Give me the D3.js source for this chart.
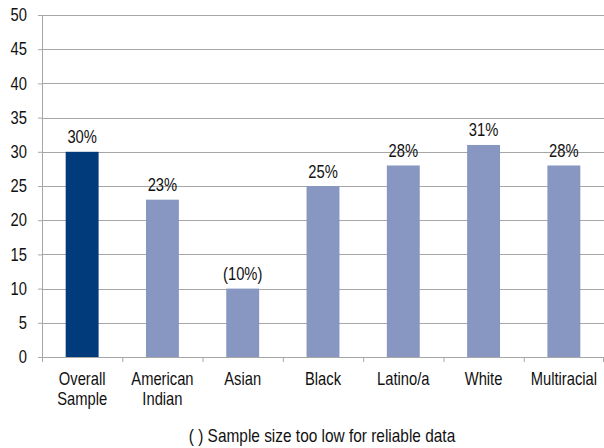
<!DOCTYPE html>
<html>
<head>
<meta charset="utf-8">
<script src="https://cdn.jsdelivr.net/npm/d3@7"></script>
<style>
  body { margin: 0; background: #fff; }
  svg text { font-family: "Liberation Sans", Arial, sans-serif; fill: #111; }
</style>
</head>
<body>
<div id="canvas"></div>
<script>
const categories = ["Overall|Sample", "American|Indian", "Asian", "Black", "Latino/a", "White", "Multiracial"];
const values = [30, 23, 10, 25, 28, 31, 28];
const valueLabels = ["30%", "23%", "(10%)", "25%", "28%", "31%", "28%"];
const yTicks = [0, 5, 10, 15, 20, 25, 30, 35, 40, 45, 50];
const note = "( ) Sample size too low for reliable data";

const canvas = d3.select("#canvas");

const width = 604;
const height = 448;
const margin = { top: 15, left: 42, bottom: 91, right: 0 };
const iwidth = width - margin.left - margin.right;
const iheight = height - margin.top - margin.bottom;
const squeeze = 0.82; // the source font is a narrow face

const svg = canvas.append("svg").attr("width", width).attr("height", height);

const g = svg.append("g").attr("transform", `translate(${margin.left},${margin.top})`);

const x = d3.scaleBand().domain(categories).range([0, iwidth]).paddingInner(0.59).paddingOuter(0.295);
const y = d3.scaleLinear().domain([0, 50]).range([iheight, 0]);

// narrow text placed at (px, py)
const narrowText = (parent, px, py, str, size) =>
  parent.append("text")
    .attr("transform", `translate(${px},${py}) scale(${squeeze},1)`)
    .attr("text-anchor", "middle")
    .style("font-size", size + "px")
    .text(str);

// gridlines
g.append("g")
  .selectAll("line")
  .data(yTicks.filter((d) => d > 0))
  .enter()
  .append("line")
  .attr("x1", 0)
  .attr("x2", iwidth)
  .attr("y1", (d) => Math.round(y(d)) + 0.5)
  .attr("y2", (d) => Math.round(y(d)) + 0.5)
  .attr("stroke", "#a6a6a6")
  .attr("stroke-width", 1.2);

// y axis
const yAxis = g.append("g").call(d3.axisLeft(y).tickValues(yTicks).tickSize(4).tickPadding(15));
yAxis.select(".domain").attr("stroke", "#a6a6a6");
yAxis.selectAll(".tick line").attr("stroke", "#a6a6a6");
yAxis.selectAll("text")
  .style("font-size", "18px")
  .attr("fill", "#111")
  .attr("x", -15 / squeeze)
  .attr("transform", `scale(${squeeze},1)`);

// bars
g.selectAll("rect.bar")
  .data(values)
  .enter()
  .append("rect")
  .attr("class", "bar")
  .attr("x", (d, i) => x(categories[i]))
  .attr("width", x.bandwidth())
  .attr("y", (d) => y(d))
  .attr("height", (d) => iheight - y(d))
  .attr("fill", (d, i) => (i === 0 ? "#023b7b" : "#8797c1"));

// value labels
values.forEach((d, i) => {
  narrowText(g, x(categories[i]) + x.bandwidth() / 2, y(d) - 8.5, valueLabels[i], 18);
});

// x axis
const xAxis = g.append("g").attr("transform", `translate(0,${iheight})`);
xAxis.append("line").attr("x1", 0).attr("x2", iwidth).attr("y1", 0.5).attr("y2", 0.5).attr("stroke", "#a6a6a6");
const step = x.step();
xAxis.selectAll("line.tk")
  .data(d3.range(categories.length + 1))
  .enter()
  .append("line")
  .attr("class", "tk")
  .attr("x1", (i) => Math.min(i * step, iwidth - 1) + 0.5)
  .attr("x2", (i) => Math.min(i * step, iwidth - 1) + 0.5)
  .attr("y1", 0)
  .attr("y2", 5)
  .attr("stroke", "#a6a6a6");

categories.forEach((c) => {
  c.split("|").forEach((line, j) => {
    narrowText(xAxis, x(c) + x.bandwidth() / 2, 28 + j * 20, line, 18);
  });
});

narrowText(svg, 322, 442, note, 18.8);
</script>
</body>
</html>
